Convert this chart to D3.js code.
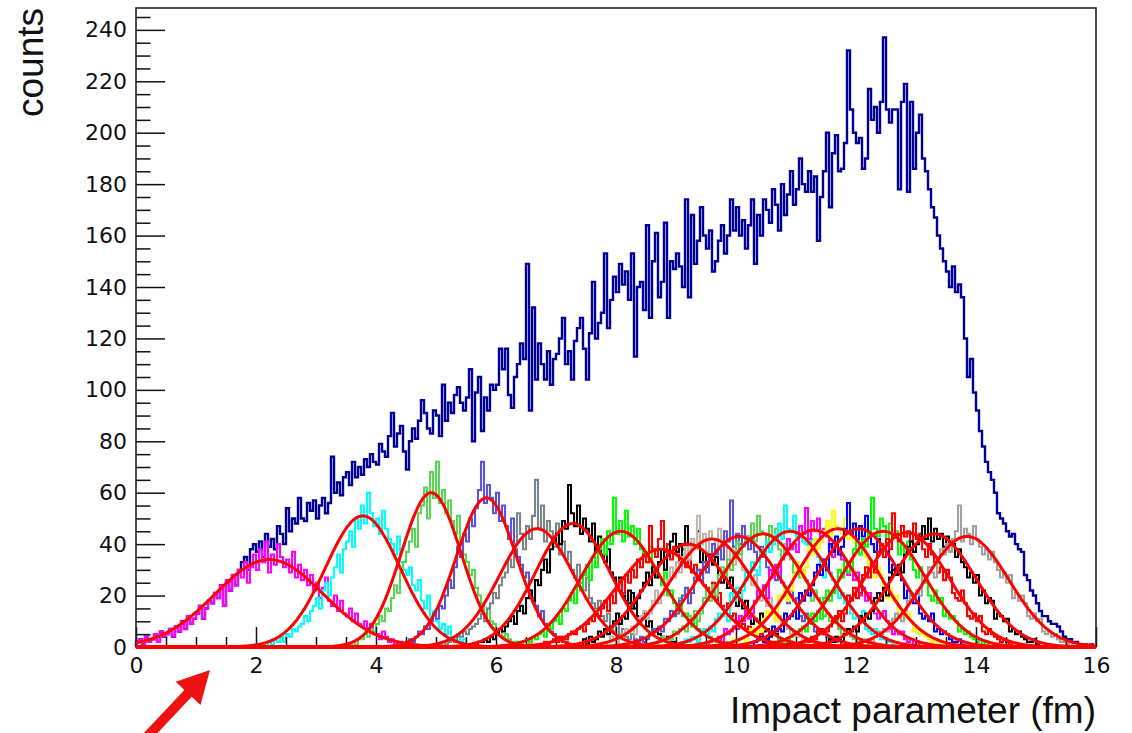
<!DOCTYPE html>
<html>
<head>
<meta charset="utf-8">
<script src="https://cdn.jsdelivr.net/npm/d3@7"></script>
<style>
  body { margin: 0; background: #fff; }
  svg { display: block; }
</style>
</head>
<body>
<div id="chart"></div>
<script>
// --- data ---------------------------------------------------------------
const binWidth = 0.05;

// total distribution (dark blue), 320 bins of 0.05 fm from 0 to 16
const totalCounts = [
  2,3,1,4,2, 3,5,2,6,4, 5,7,4,8,6, 10,7,12,9,11, 13,16,11,15,18, 17,21,19,24,16, 26,22,28,24,30,
  33,35,30,38,40, 37,41,35,44,39, 42,38,47,44,40, 54,45,50,48,58, 50,49,56,53,57,
  50,55,58,52,56, 74,60,64,59,66, 68,63,72,66,70, 67,73,70,75,72,
  71,79,76,74,82, 91,78,83,86,76, 69,80,85,81,88, 96,91,85,83,92,
  90,82,102,88,95, 91,98,101,95,92, 97,108,80,99,105, 84,97,92,102,100,
  102,116,108,116,98, 93,105,110,118,112, 149,92,132,104,118, 110,104,115,102,112,
  114,120,128,110,115, 104,119,124,128,116, 104,122,142,120,126, 130,153,124,135,144,
  138,149,141,146,135, 153,113,140,142,131, 164,128,150,161,136, 142,165,128,150,147,
  153,148,140,174,136, 168,149,158,171,160, 155,162,146,150,158, 164,153,160,174,162,
  171,160,166,155,164, 174,149,168,160,174, 170,165,178,172,162, 180,168,176,185,172,
  178,190,180,177,185, 177,183,158,175,185, 200,171,192,199,185, 186,196,232,209,200,
  196,198,186,190,217, 205,210,200,212,237, 209,204,209,209,178, 212,219,177,212,186,
  200,207,190,185,178, 171,167,160,155,150, 146,140,148,138,141, 136,120,105,112,99,
  92,84,78,72,68, 65,60,52,50,48, 45,43,44,40,38, 37,28,26,22,20,
  17,14,12,12,10, 9,9,8,6,4, 3,3,2,2,1, 1,1,0,1,0
];

// impact-parameter distributions of the 20 centrality classes
const sliceColors = ["#ff00ff","#00ffff","#59d454","#5954d8","#77868b","#000000","#00ff00","#ff0000","#000000","#c0b6ac",
                     "#5954d8","#59d454","#00ffff","#ff00ff","#ffff00","#0000ff","#00ff00","#ff0000","#000000","#a0a0a0"];
const sliceStarts = [0, 2.0, 3.5, 4.4, 4.9, 5.5, 6.2, 6.5, 7.45, 7.85,
                     8.3, 8.7, 9.15, 9.55, 9.95, 10.3, 10.7, 11.1, 11.55, 12.1];
const sliceCounts = [
  [2,3,1,4,2, 3,5,2,6,4, 5,7,4,8,6, 10,7,12,9,11, 13,16,11,15,18, 17,21,19,24,16, 26,22,28,24,30,
   27,33,25,31,36, 30,38,33,41,29, 36,32,40,35,31, 34,29,37,27,32, 26,30,24,28,22, 25,19,23,27,18,
   16,20,14,18,13, 12,15,10,13,9, 8,10,6,9,5, 5,3,6,4,2, 3,1,2,2,1],
  [0,1,1,0,2, 1,3,2,4,2, 5,4,7,6,8, 9,12,10,14,16, 19,15,22,25,20, 27,31,36,29,38, 41,45,39,50,46,
   55,48,60,52,47, 50,44,53,46,42, 40,36,43,33,30, 28,31,24,22,26, 18,15,20,12,14, 10,7,9,5,8, 4,3,5,2,3, 1,1],
  [0,1,2,1,3, 3,5,4,7,6, 9,12,10,15,14, 19,24,21,29,33, 37,41,46,39,52, 55,62,50,68,58,
   72,56,61,52,57, 49,44,51,40,36, 33,28,30,23,20, 17,13,15,10,9, 6,7,4,5,3, 2,2,1],
  [1,0,2,3,2, 4,6,5,8,7, 10,13,11,16,15, 20,26,23,31,39, 35,44,41,50,47, 54,61,72,56,63,
   58,52,60,49,55, 47,42,50,38,35, 32,27,29,22,19, 16,12,14,9,8, 6,5,3,4,2, 2,1,1],
  [0,1,0,1,2, 1,2,3,2,4, 4,6,5,7,8, 9,11,13,10,15, 17,21,19,24,27, 29,34,31,40,52, 44,38,47,42,51,
   65,46,55,41,49, 45,39,48,36,41, 34,37,30,27,32, 25,22,27,19,17, 15,18,12,10,13, 8,6,9,5,7, 4,3,5,2,2, 1,1],
  [0,1,1,0,2, 2,3,2,4,3, 5,7,6,8,10, 12,9,14,16,13, 19,22,18,26,24, 30,34,29,38,41, 44,40,49,46,63,
   52,47,55,44,50, 46,41,48,37,43, 36,33,38,29,27, 24,27,20,18,22, 15,17,12,11,13, 8,10,6,7,5, 4,3,4,2,2, 1,1],
  [0,1,1,2,1, 2,3,2,4,3, 5,6,4,8,7, 10,12,9,15,14, 18,21,17,24,22, 28,32,26,35,31, 38,42,36,45,40,
   58,44,49,41,53, 43,47,40,46,38, 36,33,39,30,28, 27,24,29,20,22, 17,15,19,12,13, 10,8,11,7,6,
   5,4,4,3,2, 2,1,2,1,1, 0],
  [0,1,0,1,1, 1,2,1,2,3, 2,4,3,3,5, 6,5,7,8,6, 9,11,10,13,12, 15,18,14,20,17, 22,26,21,28,25,
   30,27,34,31,36, 33,47,38,35,42, 49,37,40,34,39, 36,33,38,31,34, 29,32,26,30,24, 23,20,25,18,21,
   16,14,17,12,13, 10,8,9,7,8, 5,6,4,5,3, 3,2,2,1,2, 1,1,0,1,0],
  [3,1,4,2,3, 6,4,7,5,8, 10,13,9,12,11, 17,21,15,19,22, 25,29,24,31,27, 33,38,30,36,41, 44,37,40,35,47,
   36,42,39,45,33, 37,31,36,32,35, 28,25,30,23,27, 19,16,21,15,18, 12,9,11,10,13, 6,7,4,6,5, 3,2,3,1,2],
  [2,4,3,1,3, 5,7,6,8,5, 10,12,14,11,13, 18,22,17,20,24, 26,31,27,33,29, 35,39,34,42,38, 51,40,44,37,45,
   42,38,46,39,43, 34,38,32,40,36, 30,26,29,24,28, 21,18,20,16,19, 13,10,12,9,11, 7,5,6,4,6, 3,2,3,2,1],
  [3,2,4,2,3, 5,7,6,8,6, 11,10,14,12,13, 18,20,23,17,21, 27,30,26,33,29, 35,40,36,38,34, 45,41,57,39,44,
   40,47,43,38,42, 37,34,39,35,31, 27,30,26,31,25, 20,17,22,18,19, 12,10,13,11,9, 6,7,5,6,4, 3,2,2,3,1],
  [2,4,3,2,3, 6,5,7,8,6, 12,11,14,10,13, 19,22,18,24,20, 28,31,27,34,30, 37,41,36,39,42, 43,48,41,51,45,
   44,40,47,42,46, 38,35,40,36,34, 29,32,27,30,26, 21,18,22,19,17, 12,13,10,11,12, 7,5,6,6,4, 3,2,3,2,2],
  [3,2,4,3,2, 6,7,5,8,6, 11,13,12,15,10, 21,18,23,19,22, 29,27,33,30,28, 38,36,41,37,40, 44,48,42,55,46,
   45,51,43,47,41, 40,36,42,37,35, 30,27,32,29,26, 22,19,21,17,20, 13,11,12,10,14, 7,6,5,7,5, 3,3,2,2,1],
  [2,3,3,4,2, 7,5,6,8,7, 12,10,14,11,13, 18,22,20,24,19, 30,27,32,29,34, 36,42,38,40,37, 47,44,54,42,49,
   45,50,41,46,43, 39,35,41,37,34, 31,28,33,26,29, 20,23,18,21,17, 13,11,12,14,10, 7,5,6,5,6, 3,2,3,1,2],
  [3,2,3,4,2, 6,7,5,8,6, 11,14,12,13,10, 20,19,23,18,22, 28,33,30,27,31, 39,36,42,38,41, 45,49,43,53,47,
   46,44,50,42,48, 41,38,36,42,35, 32,29,27,31,28, 21,19,23,18,20, 12,14,11,13,10, 6,7,5,6,4, 3,2,3,2,1],
  [2,3,4,2,3, 5,8,6,7,6, 13,11,12,14,11, 21,18,22,20,24, 29,32,28,34,30, 40,37,43,36,39, 46,56,44,48,42,
   47,43,51,45,40, 37,42,38,35,40, 29,32,28,30,26, 19,22,20,17,21, 13,11,12,10,13, 6,7,5,6,5, 3,2,2,3,1],
  [3,2,3,2,4, 6,5,7,8,6, 12,13,10,14,11, 19,22,18,21,23, 30,27,33,29,31, 38,41,36,42,39, 44,58,46,43,50,
   47,42,48,44,45, 36,40,37,41,34, 30,27,31,28,25, 20,18,22,17,19, 12,14,11,12,10, 6,7,5,6,4, 3,2,3,1,2],
  [2,3,2,4,3, 6,7,5,6,8, 11,12,14,10,13, 20,18,23,19,21, 28,31,27,33,29, 37,40,35,42,38, 52,44,41,47,43,
   45,41,48,42,44, 38,35,40,36,33, 29,31,26,30,27, 21,19,18,22,17, 12,11,13,10,12, 6,5,7,5,4, 3,2,3,2,1],
  [3,2,4,3,2, 5,7,6,8,6, 12,10,13,11,14, 19,21,18,23,20, 27,30,28,32,29, 36,39,41,37,40, 43,47,42,50,41,
   46,42,44,39,43, 37,40,35,38,33, 31,27,29,25,28, 20,22,17,19,18, 11,13,12,10,11, 6,7,5,6,4, 3,2,2,3,1],
  [2,3,3,2,4, 6,5,7,6,8, 11,13,12,10,14, 18,21,19,22,20, 28,26,31,29,27, 35,38,36,40,37, 42,45,55,41,46,
   44,40,47,42,39, 36,38,34,37,33, 30,27,29,25,28, 19,21,18,20,17, 12,11,13,10,11, 6,5,6,4,5, 3,2,2,1,2]
];

// gaussian fit results for each class (amplitude, mean, sigma)
const fitAmp   = [34, 51, 60, 58, 46, 48, 45, 38, 40, 42, 43, 44, 45, 45.5, 46, 46, 45, 44.5, 44, 43];
const fitMean  = [2.22, 3.78, 4.92, 5.84, 6.68, 7.28, 8.08, 8.75, 9.2, 9.6,
                  10.05, 10.45, 10.9, 11.3, 11.7, 12.05, 12.45, 12.85, 13.3, 13.85];
const fitSigma = [0.90, 0.62, 0.50, 0.50, 0.62, 0.62, 0.66, 0.75, 0.70, 0.70,
                  0.70, 0.70, 0.70, 0.70, 0.70, 0.70, 0.70, 0.70, 0.70, 0.70];

const xMajorTicks = [0, 2, 4, 6, 8, 10, 12, 14, 16];
const yMajorTicks = [0, 20, 40, 60, 80, 100, 120, 140, 160, 180, 200, 220, 240];

// --- layout -------------------------------------------------------------
const W = 1132, H = 733;
const frame = { left: 136, right: 1096, top: 8, bottom: 647 };

const svg = d3.select("#chart")
  .append("svg")
  .attr("width", W)
  .attr("height", H);

const x = d3.scaleLinear().domain([0, 16]).range([frame.left, frame.right]);
const y = d3.scaleLinear().domain([0, 248.5]).range([frame.bottom, frame.top]);

const line = d3.line().x(d => x(d[0])).y(d => y(d[1]));

function histPoints(start, counts) {
  const pts = [[start, 0]];
  counts.forEach((c, i) => {
    const lo = start + i * binWidth;
    pts.push([lo, c], [lo + binWidth, c]);
  });
  pts.push([start + counts.length * binWidth, 0]);
  return pts;
}

// total histogram first, the classes on top of it
svg.append("path")
  .attr("d", line(histPoints(0, totalCounts)))
  .attr("fill", "none")
  .attr("stroke", "#000099")
  .attr("stroke-width", 2.4);

svg.selectAll(".slice")
  .data(sliceCounts)
  .join("path")
  .attr("class", "slice")
  .attr("d", (d, i) => line(histPoints(sliceStarts[i], d)))
  .attr("fill", "none")
  .attr("stroke", (d, i) => sliceColors[i])
  .attr("stroke-width", 2.1);

// fit functions drawn across the full axis range
const fitX = d3.range(0, 16.0001, 0.02);
svg.selectAll(".fit")
  .data(fitAmp)
  .join("path")
  .attr("class", "fit")
  .attr("d", (a, i) => line(fitX.map(v => [v, a * Math.exp(-((v - fitMean[i]) ** 2) / (2 * fitSigma[i] ** 2))])))
  .attr("fill", "none")
  .attr("stroke", "#ff0000")
  .attr("stroke-width", 3);

// --- axes (ROOT style: ticks inside the frame) --------------------------
const labelFont = "'DejaVu Sans', sans-serif";

const yMinor = d3.range(0, 249, 5).filter(v => v % 20 !== 0);
svg.append("g")
  .attr("transform", `translate(${frame.left},0)`)
  .call(d3.axisLeft(y).tickValues(yMinor).tickSize(-14.5).tickFormat(""))
  .call(g => g.select(".domain").remove());

const yAxis = svg.append("g")
  .attr("transform", `translate(${frame.left},0)`)
  .call(d3.axisLeft(y).tickValues(yMajorTicks).tickSize(-29))
  .call(g => g.select(".domain").remove());
yAxis.selectAll("text")
  .attr("x", -9)
  .style("font-family", labelFont)
  .style("font-size", "22px")
  .attr("fill", "#111");

const xMinor = d3.range(0, 16.01, 0.5).filter(v => v % 2 !== 0);
svg.append("g")
  .attr("transform", `translate(0,${frame.bottom})`)
  .call(d3.axisBottom(x).tickValues(xMinor).tickSize(-10).tickFormat(""))
  .call(g => g.select(".domain").remove());

const xAxis = svg.append("g")
  .attr("transform", `translate(0,${frame.bottom})`)
  .call(d3.axisBottom(x).tickValues(xMajorTicks).tickSize(-20))
  .call(g => g.select(".domain").remove());
xAxis.selectAll("text")
  .attr("y", 10)
  .style("font-family", labelFont)
  .style("font-size", "22px")
  .attr("fill", "#111");

svg.selectAll(".tick line").attr("stroke", "#111").attr("stroke-width", 1.5);

// frame
svg.append("rect")
  .attr("x", frame.left)
  .attr("y", frame.top)
  .attr("width", frame.right - frame.left)
  .attr("height", frame.bottom - frame.top)
  .attr("fill", "none")
  .attr("stroke", "#222")
  .attr("stroke-width", 1.6);

// fits (and their red baseline) stay on top of the frame
svg.selectAll(".fit").raise();

// titles
svg.append("text")
  .attr("x", frame.right)
  .attr("y", 723)
  .attr("text-anchor", "end")
  .style("font-family", "'Liberation Sans', Arial, sans-serif")
  .style("font-size", "37px")
  .attr("fill", "#111")
  .text("Impact parameter (fm)");

svg.append("text")
  .attr("transform", `translate(43,${frame.top}) rotate(-90)`)
  .attr("text-anchor", "end")
  .style("font-family", "'Liberation Sans', Arial, sans-serif")
  .style("font-size", "37px")
  .attr("fill", "#111")
  .text("counts");

// annotation arrow pointing at the baseline
const tip = [210, 670], tail = [146, 738];
const len = Math.hypot(tip[0] - tail[0], tip[1] - tail[1]);
const u = [(tip[0] - tail[0]) / len, (tip[1] - tail[1]) / len];
const n = [-u[1], u[0]];
const headLen = 32, headHalf = 17, shaftHalf = 5;
const base = [tip[0] - headLen * u[0], tip[1] - headLen * u[1]];
const arrowPts = [
  [tail[0] + shaftHalf * n[0], tail[1] + shaftHalf * n[1]],
  [base[0] + shaftHalf * n[0], base[1] + shaftHalf * n[1]],
  [base[0] + headHalf * n[0], base[1] + headHalf * n[1]],
  tip,
  [base[0] - headHalf * n[0], base[1] - headHalf * n[1]],
  [base[0] - shaftHalf * n[0], base[1] - shaftHalf * n[1]],
  [tail[0] - shaftHalf * n[0], tail[1] - shaftHalf * n[1]]
];
svg.append("path")
  .attr("d", "M" + arrowPts.map(p => p.join(",")).join("L") + "Z")
  .attr("fill", "#ee1111");
</script>
</body>
</html>
